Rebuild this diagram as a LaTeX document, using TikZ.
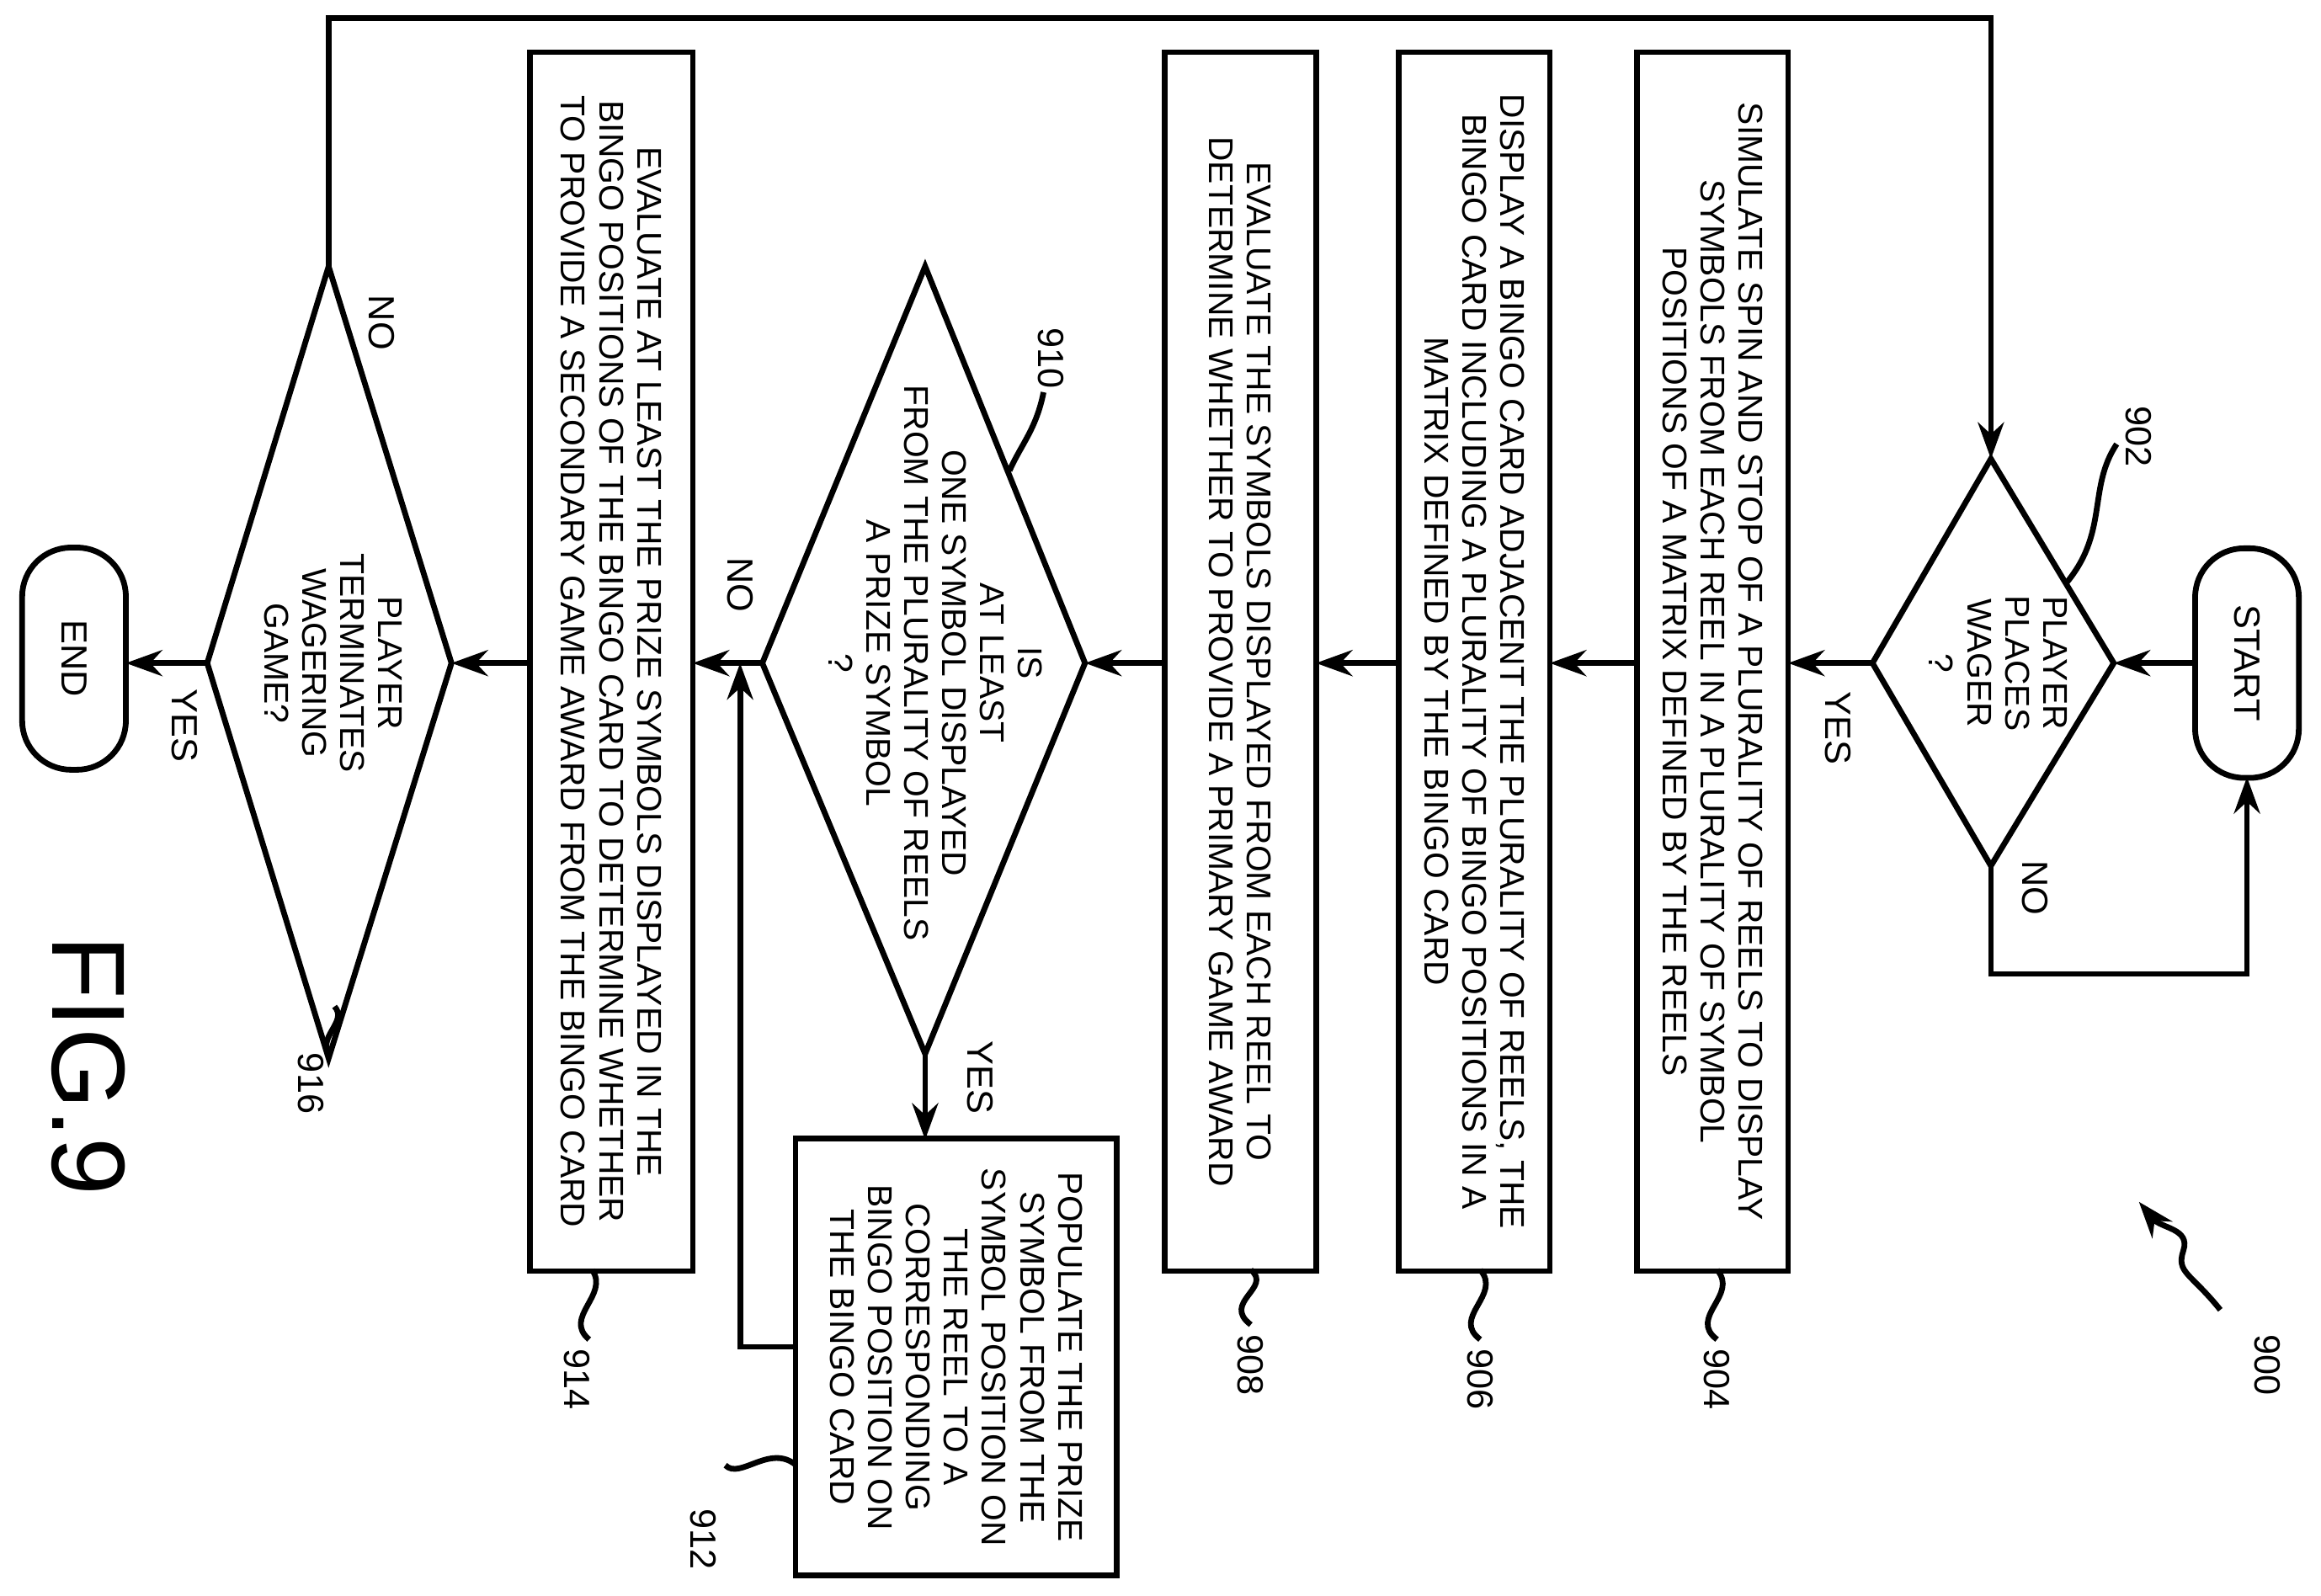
\documentclass[tikz,border=0pt]{standalone}
\usepackage{fontspec}
\setmainfont{Liberation Sans}
\usetikzlibrary{arrows.meta}
\begin{document}
\begin{tikzpicture}[x=0.01cm,y=-0.01cm,line width=1.1pt,
  >={Stealth[length=7pt,width=5pt]},
  txt/.style={rotate=-90,font=\fontsize{6.6}{7.3}\selectfont,align=center,inner sep=0pt},
  box/.style={draw,rotate=-90,minimum width=8.23cm,minimum height=1.02cm,font=\fontsize{6.6}{7.3}\selectfont,align=center,inner sep=1pt},
  term/.style={draw,rotate=-90,rounded corners=0.33cm,minimum height=0.7cm,font=\fontsize{7}{8}\selectfont},
  lbl/.style={rotate=-90,font=\fontsize{7}{8}\selectfont,inner sep=1pt}]
\useasboundingbox (0,0) rectangle (1568,1078);
% terminals
\node[term,minimum width=1.55cm] (start) at (1518,448) {START};
\node[term,minimum width=1.5cm] (end) at (50,445) {END};
\coordinate (startL) at (1483,448); \coordinate (startB) at (1518,525);
\coordinate (endR) at (85,448);
% diamond 902
\coordinate (d2t) at (1345,310); \coordinate (d2b) at (1345,585);
\coordinate (d2l) at (1265,448); \coordinate (d2r) at (1428,448);
\draw (d2t)--(d2r)--(d2b)--(d2l)--cycle;
\node[txt] (t902) at (1350,448) {PLAYER\\PLACES\\WAGER\\?};
% boxes
\node[box] (b904) at (1157,447) {SIMULATE SPIN AND STOP OF A PLURALITY OF REELS TO DISPLAY\\SYMBOLS FROM EACH REEL IN A PLURALITY OF SYMBOL\\POSITIONS OF A MATRIX DEFINED BY THE REELS};
\node[box] (b906) at (996,447) {DISPLAY A BINGO CARD ADJACENT THE PLURALITY OF REELS, THE\\BINGO CARD INCLUDING A PLURALITY OF BINGO POSITIONS IN A\\MATRIX DEFINED BY THE BINGO CARD};
\node[box] (b908) at (838,447) {EVALUATE THE SYMBOLS DISPLAYED FROM EACH REEL TO\\DETERMINE WHETHER TO PROVIDE A PRIMARY GAME AWARD};
\node[box,minimum height=1.1cm] (b914) at (413,447) {EVALUATE AT LEAST THE PRIZE SYMBOLS DISPLAYED IN THE\\BINGO POSITIONS OF THE BINGO CARD TO DETERMINE WHETHER\\TO PROVIDE A SECONDARY GAME AWARD FROM THE BINGO CARD};
\node[box,minimum width=2.95cm,minimum height=2.17cm] (b912) at (646,917) {POPULATE THE PRIZE\\SYMBOL FROM THE\\SYMBOL POSITION ON\\THE REEL TO A\\CORRESPONDING\\BINGO POSITION ON\\THE BINGO CARD};
\coordinate (b904R) at (1208,448); \coordinate (b904L) at (1106,448);
\coordinate (b906R) at (1047,448); \coordinate (b906L) at (945,448);
\coordinate (b908R) at (889,448); \coordinate (b908L) at (787,448);
\coordinate (b914R) at (468,448); \coordinate (b914L) at (358,448);
\coordinate (b912T) at (625,770); \coordinate (b912L) at (538,910);
% diamond 910
\coordinate (d10t) at (625,180); \coordinate (d10b) at (625,712);
\coordinate (d10l) at (515,448); \coordinate (d10r) at (733,448);
\draw (d10t)--(d10r)--(d10b)--(d10l)--cycle;
\node[txt] (t910) at (632,448) {IS\\AT LEAST\\ONE SYMBOL DISPLAYED\\FROM THE PLURALITY OF REELS\\A PRIZE SYMBOL\\?};
% diamond 916
\coordinate (d16t) at (222,180); \coordinate (d16b) at (222,715);
\coordinate (d16l) at (140,448); \coordinate (d16r) at (305,448);
\draw (d16t)--(d16r)--(d16b)--(d16l)--cycle;
\node[txt] (t916) at (225,448) {PLAYER\\TERMINATES\\WAGERING\\GAME?};
% connectors
\draw[->] (startL) -- (d2r);
\draw[->] (d2b) -- (1345,658) -- (1518,658) -- (startB);
\draw[->] (d2l) -- (b904R);
\draw[->] (b904L) -- (b906R);
\draw[->] (b906L) -- (b908R);
\draw[->] (b908L) -- (d10r);
\draw[->] (d10b) -- (b912T);
\draw[->] (d10l) -- (b914R);
\coordinate (j) at (500,448);
\draw[->] (b912L) -- (500,910) -- (j);
\draw[->] (b914L) -- (d16r);
\draw[->] (d16l) -- (endR);
\draw[->] (d16t) -- (222,12) -- (1345,12) -- (d2t);
% branch labels
\node[lbl] at (1375,600) {NO};
\node[lbl] at (1242,492) {YES};
\node[lbl] at (662,728) {YES};
\node[lbl] at (500,395) {NO};
\node[lbl] at (258,218) {NO};
\node[lbl] at (125,490) {YES};
% reference numerals
\node[lbl] (n900) at (1532,922) {900};
\draw[->] (1500,885) .. controls (1480,860) and (1470,860) .. (1475,845) .. controls (1480,830) and (1460,830) .. (1445,812);
\node[lbl] (n902) at (1445,295) {902};
\draw (1430,300) .. controls (1410,330) and (1425,360) .. (1395,395);
\node[lbl] (n904) at (1160,932) {904};
\draw (1160,905) .. controls (1140,890) and (1175,875) .. (1160,858);
\node[lbl] (n906) at (1000,932) {906};
\draw (1000,905) .. controls (980,890) and (1015,875) .. (1000,858);
\node[lbl] (n908) at (845,922) {908};
\draw (845,895) .. controls (825,880) and (860,870) .. (845,858);
\node[lbl] (n910) at (710,242) {910};
\draw (705,265) .. controls (700,290) and (690,300) .. (682,318);
\node[lbl] (n912) at (475,1040) {912};
\draw (490,990) .. controls (500,1000) and (520,975) .. (538,990);
\node[lbl] (n914) at (390,932) {914};
\draw (398,905) .. controls (380,890) and (412,875) .. (400,858);
\node[lbl] (n916) at (210,732) {916};
\draw (222,712) .. controls (215,700) and (235,690) .. (226,680);
\node[rotate=-90,font=\fontsize{20}{22}\selectfont] (fig) at (60,720) {FIG.9};
\end{tikzpicture}
\end{document}
